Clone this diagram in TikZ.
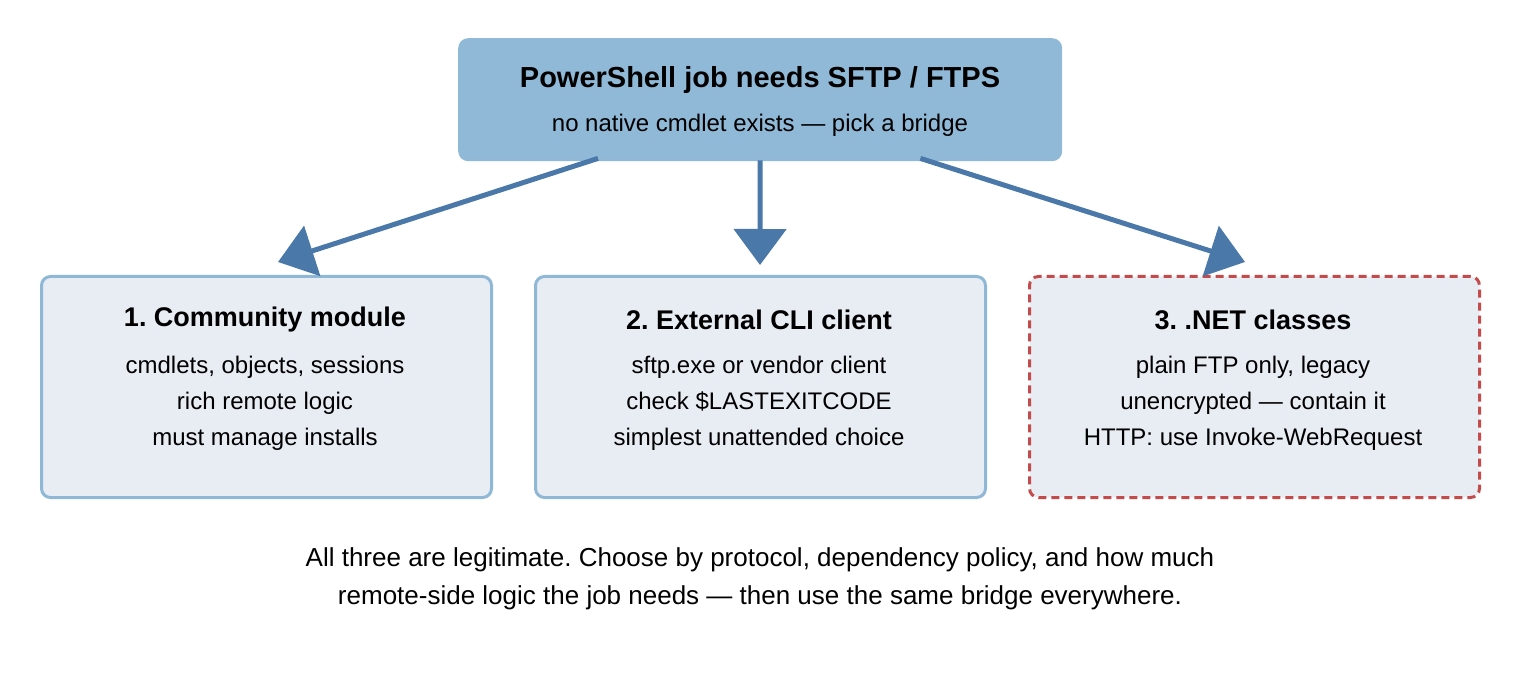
\documentclass[tikz,border=0pt]{standalone}
\usepackage{fontspec}
\setmainfont{Liberation Sans}
\frenchspacing
\usetikzlibrary{arrows.meta, positioning}
\definecolor{topfill}{HTML}{90B9D7}
\definecolor{boxfill}{HTML}{E8EDF4}
\definecolor{boxline}{HTML}{8FB8D6}
\definecolor{warnline}{HTML}{C44B4B}
\definecolor{arrowcol}{HTML}{4A78A8}
\begin{document}
\begin{tikzpicture}[x=1pt, y=-1pt,
        every node/.style={align=center, font=\fontsize{24}{36}\selectfont},
        option/.style={draw=boxline, line width=3pt, fill=boxfill, rounded corners=9pt,
            minimum width=450pt, minimum height=221pt, anchor=north west, inner sep=0pt},
        pick/.style={draw=arrowcol, line width=5pt, -{Triangle[length=36pt,width=52pt]}}
    ]
      \useasboundingbox (0,0) rectangle (1520,700);
      \node[fill=topfill, rounded corners=10pt, minimum width=604pt, minimum height=123pt,
        anchor=north west, inner sep=0pt] (need) at (458,38) {};
      \node[font=\bfseries\fontsize{29}{30}\selectfont] at (760,80) {PowerShell job needs SFTP / FTPS};
      \node at (760,125) {no native cmdlet exists — pick a bridge};

      \node[option] (mod) at (40,275) {};
      \node[option] (cli) at (534,275) {};
      \node[option, draw=warnline, dashed, dash pattern=on 8pt off 5pt] (net) at (1028,275) {};

      \node[font=\bfseries\fontsize{27}{30}\selectfont] at (265,320) {1. Community module};
      \node at (265,403) {cmdlets, objects, sessions\\rich remote logic\\must manage installs};
      \node[font=\bfseries\fontsize{27}{30}\selectfont] at (759,320) {2. External CLI client};
      \node at (759,403) {sftp.exe or vendor client\\check \$LASTEXITCODE\\simplest unattended choice};
      \node[font=\bfseries\fontsize{27}{30}\selectfont] at (1253,320) {3. .NET classes};
      \node at (1253,403) {plain FTP only, legacy\\unencrypted — contain it\\HTTP: use Invoke-WebRequest};

      \coordinate (m) at (278,262);
      \coordinate (c) at (760,265);
      \coordinate (n) at (1245,262);
      \draw[pick] (need.south west) ++(140,-3) -- (m);
      \draw[pick] (need.south) ++(0,-1) -- (c);
      \draw[pick] (need.south east) ++(-142,-3) -- (n);

      \node[font=\fontsize{26}{38}\selectfont] at (760,579) {All three are legitimate. Choose by protocol, dependency policy, and how much\\remote-side logic the job needs — then use the same bridge everywhere.};
    \end{tikzpicture}
\end{document}
